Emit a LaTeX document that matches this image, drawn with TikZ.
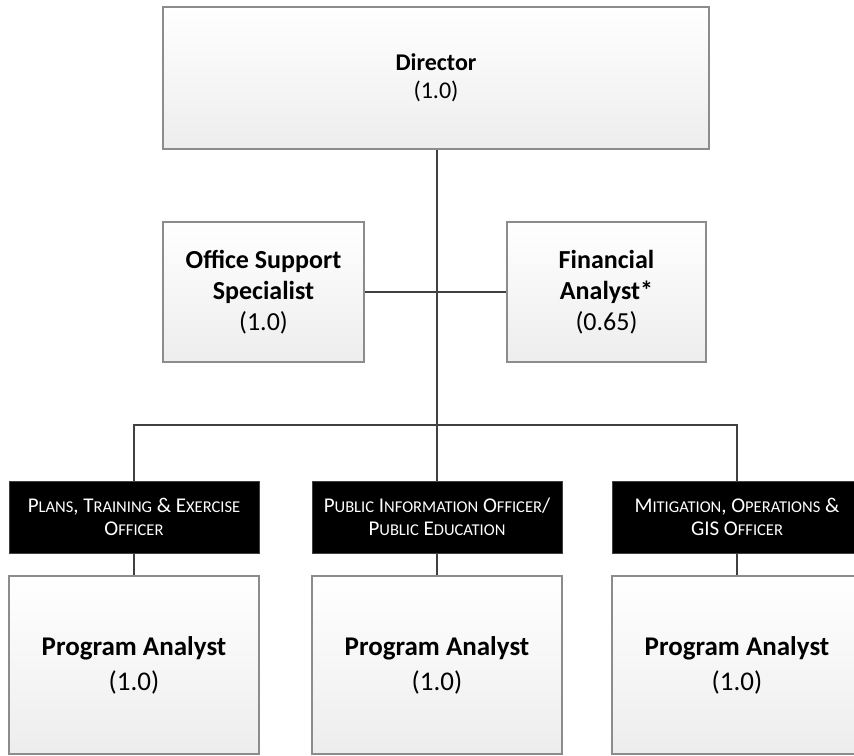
\documentclass[tikz,border=0pt]{standalone}
\usepackage{fontspec}
\setmainfont{Carlito}
\usetikzlibrary{backgrounds}
\definecolor{boxgray}{HTML}{8C8C8C}
\definecolor{boxbot}{HTML}{EDEDED}
\definecolor{linegray}{HTML}{404040}
\newcommand\SC[1]{{\fontsize{16.5}{23}\selectfont #1}}
\begin{document}
\begin{tikzpicture}[x=1pt,y=-1pt,
  box/.style={draw=boxgray,line width=1.2pt,top color=white,bottom color=boxbot,align=center,inner sep=0pt},
  hdr/.style={draw=linegray,line width=1pt,fill=black,text=white,align=center,inner sep=0pt,
    minimum width=250pt,minimum height=72pt,font=\fontsize{21}{23}\selectfont},
  pa/.style={box,minimum width=250pt,minimum height=178pt,font=\fontsize{27}{35}\selectfont},
  mid/.style={box,minimum height=140pt,font=\fontsize{26}{31}\selectfont},
  conn/.style={draw=linegray,line width=2.5pt}]
\useasboundingbox (0,0) rectangle (854,755);
\clip (0,0) rectangle (854,755);
\node[box,minimum width=546pt,minimum height=142pt,font=\fontsize{24}{28}\selectfont] (dir) at (436,78) {\textbf{Director}\\(1.0)};
\node[mid,minimum width=201pt] (off) at (263.5,292) {\textbf{Office Support}\\\textbf{Specialist}\\(1.0)};
\node[mid,minimum width=199pt] (fin) at (606.5,292) {\textbf{Financial}\\\textbf{Analyst*}\\(0.65)};
\node[hdr] (plan) at (134,517) {P\SC{LANS}, T\SC{RAINING} \& E\SC{XERCISE}\\O\SC{FFICER}};
\node[hdr] (pio) at (437,517) {P\SC{UBLIC} I\SC{NFORMATION} O\SC{FFICER}/\\P\SC{UBLIC} E\SC{DUCATION}};
\node[hdr] (mit) at (737,517) {M\SC{ITIGATION}, O\SC{PERATIONS} \&\\GIS O\SC{FFICER}};
\node[pa] (pa1) at (134,665) {\textbf{Program Analyst}\\(1.0)};
\node[pa] (pa2) at (437,665) {\textbf{Program Analyst}\\(1.0)};
\node[pa] (pa3) at (737,665) {\textbf{Program Analyst}\\(1.0)};
\coordinate (bus) at (437,425);
\begin{scope}[on background layer]
\draw[conn] (dir.south -| pio.north) -- (pio.north);
\draw[conn] (off.east) -- (fin.west);
\draw[conn] (plan.north) |- (bus) -| (mit.north);
\draw[conn] (plan.south) -- (pa1.north);
\draw[conn] (pio.south) -- (pa2.north);
\draw[conn] (mit.south) -- (pa3.north);
\end{scope}
\end{tikzpicture}
\end{document}
